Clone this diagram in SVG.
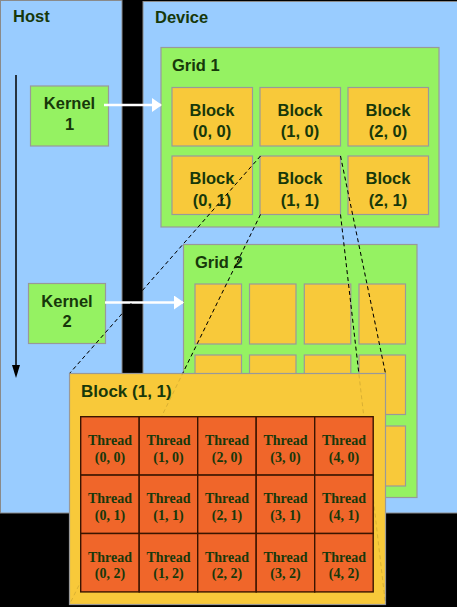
<svg xmlns="http://www.w3.org/2000/svg" xmlns:xlink="http://www.w3.org/1999/xlink" width="457" height="607" viewBox="0 0 457 607">
<style>
.panel{fill:#99ccff;stroke:#8a8a8a;stroke-width:1}
.grid{fill:#95f262;stroke:#999;stroke-width:1.2}
.blk{fill:#f8c93a;stroke:#999;stroke-width:1.2}
.kern{fill:#95f262;stroke:#999;stroke-width:1.2}
.thr{fill:#f0662a;stroke:#3a1500;stroke-width:1.4}
.lbl{font-family:"Liberation Sans",Arial,sans-serif;font-weight:bold;font-size:16.5px;fill:#17380a}
.ctr{text-anchor:middle}
.tt{font-family:"Liberation Serif","Times New Roman",serif;font-weight:bold;font-size:14px;fill:#17380a;text-anchor:middle}
.dash{stroke:#000;stroke-width:1;stroke-dasharray:4 3;fill:none}
.arr{stroke:#fff;stroke-width:2.5;fill:none}
</style>
<defs>
<marker id="wh" markerWidth="10" markerHeight="14" refX="9" refY="7" orient="auto" markerUnits="userSpaceOnUse">
<path d="M0,0 L10,7 L0,14 Z" fill="#fff"/>
</marker>
<g id="lines">
<line x1="260.5" y1="156" x2="69.5" y2="373.5"/>
<line x1="340.5" y1="156" x2="385.5" y2="373.5"/>
<line x1="260.5" y1="214.5" x2="69.5" y2="604.5"/>
<line x1="340.5" y1="214.5" x2="385.5" y2="604.5"/>
</g>
</defs>
<rect x="0" y="0" width="457" height="607" fill="#000"/>
<g id="host">
<rect class="panel" x="0.5" y="0.5" width="121.5" height="512.5"/>
<text class="lbl" x="13" y="22">Host</text>
</g>
<g id="device">
<rect class="panel" x="143" y="1.5" width="315" height="511.5"/>
<text class="lbl" x="155" y="23">Device</text>
</g>
<g id="timeline">
<line x1="16" y1="75" x2="16" y2="366" stroke="#000" stroke-width="1.5"/>
<path d="M12,365 L20,365 L16,378 Z" fill="#000"/>
</g>
<g id="grid1">
<rect class="grid" x="161" y="47.5" width="278" height="179.5"/>
<text class="lbl" x="172" y="71">Grid 1</text>
<rect class="blk" x="172" y="87.5" width="80.5" height="58.5"/>
<rect class="blk" x="260" y="87.5" width="80.5" height="58.5"/>
<rect class="blk" x="348" y="87.5" width="80.5" height="58.5"/>
<rect class="blk" x="172" y="156" width="80.5" height="58.5"/>
<rect class="blk" x="260" y="156" width="80.5" height="58.5"/>
<rect class="blk" x="348" y="156" width="80.5" height="58.5"/>
<g class="lbl ctr">
<text x="212" y="115.5">Block</text><text x="212" y="137">(0, 0)</text>
<text x="300" y="115.5">Block</text><text x="300" y="137">(1, 0)</text>
<text x="388" y="115.5">Block</text><text x="388" y="137">(2, 0)</text>
<text x="212" y="184">Block</text><text x="212" y="205.5">(0, 1)</text>
<text x="300" y="184">Block</text><text x="300" y="205.5">(1, 1)</text>
<text x="388" y="184">Block</text><text x="388" y="205.5">(2, 1)</text>
</g>
</g>
<g id="grid2">
<rect class="grid" x="183.5" y="244.5" width="233.5" height="253"/>
<text class="lbl" x="195" y="267.5">Grid 2</text>
<rect class="blk" x="195" y="284" width="46.5" height="60"/>
<rect class="blk" x="249.5" y="284" width="46.5" height="60"/>
<rect class="blk" x="304.3" y="284" width="46.5" height="60"/>
<rect class="blk" x="359" y="284" width="46.5" height="60"/>
<rect class="blk" x="195" y="355" width="46.5" height="59.5"/>
<rect class="blk" x="249.5" y="355" width="46.5" height="59.5"/>
<rect class="blk" x="304.3" y="355" width="46.5" height="59.5"/>
<rect class="blk" x="359" y="355" width="46.5" height="59.5"/>
<rect class="blk" x="195" y="426" width="46.5" height="60"/>
<rect class="blk" x="249.5" y="426" width="46.5" height="60"/>
<rect class="blk" x="304.3" y="426" width="46.5" height="60"/>
<rect class="blk" x="359" y="426" width="46.5" height="60"/>
</g>
<g id="kernel1">
<rect class="kern" x="30.5" y="86" width="78" height="60"/>
<text class="lbl ctr" x="69.5" y="108.5">Kernel</text>
<text class="lbl ctr" x="69.5" y="129.5">1</text>
</g>
<g id="kernel2">
<rect class="kern" x="28.5" y="283.5" width="77" height="60"/>
<text class="lbl ctr" x="67" y="307">Kernel</text>
<text class="lbl ctr" x="67" y="327">2</text>
</g>
<g id="connectors">
<line class="arr" x1="104" y1="105" x2="161" y2="105" marker-end="url(#wh)"/>
<line class="arr" x1="105" y1="302.5" x2="183" y2="302.5" marker-end="url(#wh)"/>
<use xlink:href="#lines" class="dash"/>
</g>
<g id="block11">
<rect class="blk" x="69.5" y="373.5" width="316" height="231"/>
<use xlink:href="#lines" class="dash" opacity="0.12"/>
<text class="lbl" x="81" y="397" style="font-size:17px">Block (1, 1)</text>
<g id="threads">
<rect class="thr" x="80.7" y="416.7" width="58.5" height="58.4"/>
<rect class="thr" x="139.2" y="416.7" width="58.5" height="58.4"/>
<rect class="thr" x="197.7" y="416.7" width="58.5" height="58.4"/>
<rect class="thr" x="256.2" y="416.7" width="58.5" height="58.4"/>
<rect class="thr" x="314.7" y="416.7" width="58.5" height="58.4"/>
<rect class="thr" x="80.7" y="475.1" width="58.5" height="58.4"/>
<rect class="thr" x="139.2" y="475.1" width="58.5" height="58.4"/>
<rect class="thr" x="197.7" y="475.1" width="58.5" height="58.4"/>
<rect class="thr" x="256.2" y="475.1" width="58.5" height="58.4"/>
<rect class="thr" x="314.7" y="475.1" width="58.5" height="58.4"/>
<rect class="thr" x="80.7" y="533.5" width="58.5" height="58.4"/>
<rect class="thr" x="139.2" y="533.5" width="58.5" height="58.4"/>
<rect class="thr" x="197.7" y="533.5" width="58.5" height="58.4"/>
<rect class="thr" x="256.2" y="533.5" width="58.5" height="58.4"/>
<rect class="thr" x="314.7" y="533.5" width="58.5" height="58.4"/>
<text class="tt" x="110" y="445">Thread</text><text class="tt" x="110" y="461.5">(0, 0)</text>
<text class="tt" x="168.5" y="445">Thread</text><text class="tt" x="168.5" y="461.5">(1, 0)</text>
<text class="tt" x="227" y="445">Thread</text><text class="tt" x="227" y="461.5">(2, 0)</text>
<text class="tt" x="285.5" y="445">Thread</text><text class="tt" x="285.5" y="461.5">(3, 0)</text>
<text class="tt" x="344" y="445">Thread</text><text class="tt" x="344" y="461.5">(4, 0)</text>
<text class="tt" x="110" y="503.4">Thread</text><text class="tt" x="110" y="519.9">(0, 1)</text>
<text class="tt" x="168.5" y="503.4">Thread</text><text class="tt" x="168.5" y="519.9">(1, 1)</text>
<text class="tt" x="227" y="503.4">Thread</text><text class="tt" x="227" y="519.9">(2, 1)</text>
<text class="tt" x="285.5" y="503.4">Thread</text><text class="tt" x="285.5" y="519.9">(3, 1)</text>
<text class="tt" x="344" y="503.4">Thread</text><text class="tt" x="344" y="519.9">(4, 1)</text>
<text class="tt" x="110" y="561.8">Thread</text><text class="tt" x="110" y="578.3">(0, 2)</text>
<text class="tt" x="168.5" y="561.8">Thread</text><text class="tt" x="168.5" y="578.3">(1, 2)</text>
<text class="tt" x="227" y="561.8">Thread</text><text class="tt" x="227" y="578.3">(2, 2)</text>
<text class="tt" x="285.5" y="561.8">Thread</text><text class="tt" x="285.5" y="578.3">(3, 2)</text>
<text class="tt" x="344" y="561.8">Thread</text><text class="tt" x="344" y="578.3">(4, 2)</text>
</g>
</g>
</svg>
